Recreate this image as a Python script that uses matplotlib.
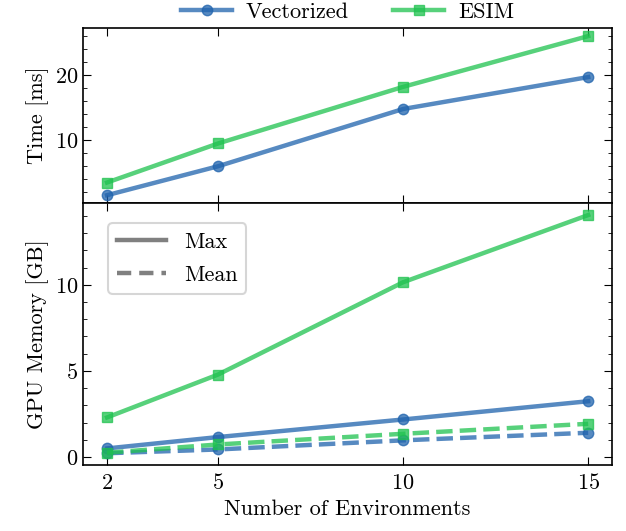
import numpy as np
import matplotlib
matplotlib.use("Agg")
import matplotlib.pyplot as plt
from matplotlib.lines import Line2D
from matplotlib.ticker import AutoMinorLocator

# data
n_envs = [2, 5, 10, 15]
time_vec = [1.55, 6.0, 14.8, 19.7]
time_esim = [3.5, 9.5, 18.2, 26.0]
mem_max_vec = [0.5, 1.16, 2.18, 3.24]
mem_max_esim = [2.3, 4.79, 10.15, 14.05]
mem_mean_vec = [0.22, 0.44, 0.97, 1.41]
mem_mean_esim = [0.25, 0.73, 1.35, 1.93]

c_vec = "#1f63ad"
c_esim = "#1fc24f"

plt.rcParams.update({
    "font.family": "serif",
    "font.serif": ["cmr10", "DejaVu Serif"],
    "mathtext.fontset": "cm",
    "axes.formatter.use_mathtext": True,
    "font.size": 16,
    "xtick.direction": "in",
    "ytick.direction": "in",
    "xtick.top": True,
    "ytick.right": True,
    "xtick.major.size": 5.5,
    "ytick.major.size": 5.5,
    "ytick.minor.size": 3.2,
    "xtick.major.pad": 6,
    "axes.linewidth": 1.2,
})

fig, (ax1, ax2) = plt.subplots(2, 1, sharex=True, figsize=(6.26, 5.31), dpi=100,
                               gridspec_kw={"height_ratios": [175, 262]})
fig.subplots_adjust(left=0.1326, right=0.978, top=0.947, bottom=0.124, hspace=0)

kw = dict(lw=3.2, ms=7.5, alpha=0.75)
ax1.plot(n_envs, time_vec, marker="o", color=c_vec, label="Vectorized", **kw)
ax1.plot(n_envs, time_esim, marker="s", color=c_esim, label="ESIM", **kw)
ax1.set_ylabel("Time [ms]")
ax1.set_yticks([10, 20])
ax1.yaxis.set_minor_locator(AutoMinorLocator(5))
ax1.legend(loc="lower center", bbox_to_anchor=(0.5, 0.985), ncol=2, frameon=False,
           columnspacing=2.0, handlelength=2.3, handletextpad=0.6, borderaxespad=0)

ax2.plot(n_envs, mem_max_vec, marker="o", color=c_vec, ls="-", **kw)
ax2.plot(n_envs, mem_max_esim, marker="s", color=c_esim, ls="-", **kw)
ax2.plot(n_envs, mem_mean_vec, marker="o", color=c_vec, ls="--", **kw)
ax2.plot(n_envs, mem_mean_esim, marker="s", color=c_esim, ls="--", **kw)
ax2.set_ylabel("GPU Memory [GB]")
ax2.set_xlabel("Number of Environments")
ax2.set_yticks([0, 5, 10])
ax2.yaxis.set_minor_locator(AutoMinorLocator(5))
ax2.set_xticks(n_envs)
ax2.set_xticks([], minor=True)

handles = [Line2D([], [], color="gray", lw=3.2, ls="-"),
           Line2D([], [], color="gray", lw=3.2, ls=(0, (3.2, 1.8)))]
leg = ax2.legend(handles, ["Max", "Mean"], loc="upper left", bbox_to_anchor=(0.048, 0.923),
                 borderaxespad=0, fancybox=True, framealpha=0.8, handlelength=2.2,
                 labelspacing=0.6)
leg.get_frame().set_linewidth(1.5)

fig.savefig("out.png", dpi=100)
